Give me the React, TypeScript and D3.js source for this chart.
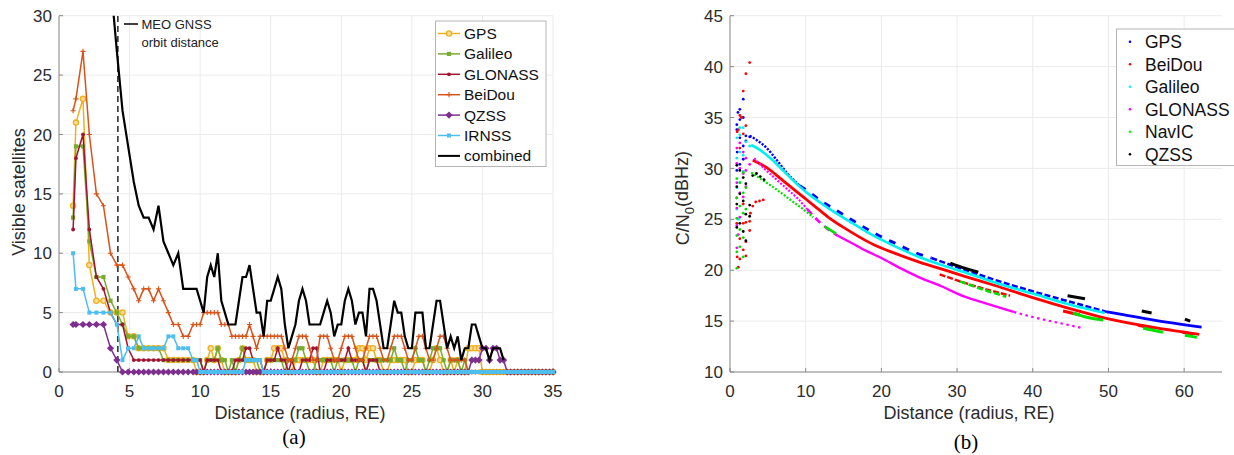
import React from 'react';
import * as d3 from 'd3';

// ---------------- Panel (a): visible satellites vs distance ----------------
const distanceA = [
  1.0, 1.2, 1.7, 2.15, 2.65, 3.15, 3.65, 4.1, 4.5, 4.9, 5.3, 5.65, 6.0, 6.35, 6.7, 7.05, 7.4, 7.75, 8.1, 8.45, 8.8, 9.15, 9.5,
  9.75, 10, 10.25, 10.5, 10.75, 11, 11.25, 11.5, 11.75, 12, 12.25, 12.5, 12.75, 13, 13.25, 13.5, 13.75, 14, 14.25, 14.5,
  14.75, 15, 15.25, 15.5, 15.75, 16, 16.25, 16.5, 16.75, 17, 17.25, 17.5, 17.75, 18, 18.25, 18.5, 18.75, 19, 19.25, 19.5,
  19.75, 20, 20.25, 20.5, 20.75, 21, 21.25, 21.5, 21.75, 22, 22.25, 22.5, 22.75, 23, 23.25, 23.5, 23.75, 24, 24.25, 24.5,
  24.75, 25, 25.25, 25.5, 25.75, 26, 26.25, 26.5, 26.75, 27, 27.25, 27.5, 27.75, 28, 28.25, 28.5, 28.75, 29, 29.25, 29.5,
  29.75, 30, 30.25, 30.5, 30.75, 31, 31.25, 31.5, 31.75, 32, 32.25, 32.5, 32.75, 33, 33.25, 33.5, 33.75, 34, 34.25, 34.5,
  34.75, 35,
];

const gpsA = [
  14, 21, 23, 9, 6, 6, 5, 5, 5, 3, 3, 2, 2, 2, 2, 2, 2, 1, 1, 1, 1, 1, 1,
  0, 0, 0, 1, 2, 1, 2, 1, 0, 0,
  0, 0, 1, 2, 1, 1, 1, 0, 0, 0,
  1, 1, 2, 2, 2, 1, 0, 0, 1, 1,
  1, 1, 1, 1, 0, 0, 1, 1, 1, 1,
  1, 0, 1, 1, 1, 1, 2, 2, 1, 2,
  2, 1, 1, 0, 0, 1, 1, 1, 1, 1,
  0, 0, 1, 1, 1, 0, 0, 1, 2, 1,
  0, 0, 1, 0, 1, 0, 0, 2, 2, 2,
  2, 0, 0, 0, 0, 0, 0, 0, 0, 0,
  0, 0, 0, 0, 0, 0, 0, 0, 0, 0,
  0, 0,
];

const galileoA = [
  13, 19, 19, 11, 8, 8, 6, 5, 4, 3, 3, 2, 2, 2, 2, 2, 1, 1, 1, 1, 1, 1, 1,
  1, 1, 0, 1, 1, 1, 2, 1, 1, 0,
  1, 0, 1, 2, 1, 1, 1, 1, 0, 0,
  1, 1, 1, 1, 1, 0, 1, 1, 1, 2,
  2, 1, 0, 0, 1, 1, 1, 1, 1, 0,
  1, 1, 1, 1, 1, 0, 1, 1, 0, 1,
  1, 1, 1, 1, 1, 1, 2, 1, 1, 0,
  1, 1, 2, 1, 1, 0, 1, 2, 2, 2,
  1, 0, 1, 1, 1, 0, 1, 0, 0, 0,
  0, 0, 0, 0, 0, 0, 0, 0, 0, 0,
  0, 0, 0, 0, 0, 0, 0, 0, 0, 0,
  0, 0,
];

const glonassA = [
  12, 18, 20, 12, 8, 7, 5, 4, 4, 2, 1, 1, 1, 1, 1, 1, 1, 1, 1, 1, 1, 1, 1,
  1, 1, 0, 1, 1, 1, 1, 0, 0, 0,
  0, 1, 1, 1, 2, 2, 1, 1, 1, 0,
  1, 1, 1, 2, 1, 1, 0, 1, 0, 0,
  1, 1, 1, 2, 2, 0, 0, 1, 1, 1,
  1, 1, 1, 2, 1, 1, 1, 1, 0, 1,
  1, 1, 0, 0, 0, 0, 0, 0, 0, 0,
  0, 0, 0, 0, 0, 0, 0, 0, 0, 0,
  0, 0, 0, 0, 0, 0, 0, 0, 0, 0,
  0, 0, 0, 0, 0, 0, 0, 0, 0, 0,
  0, 0, 0, 0, 0, 0, 0, 0, 0, 0,
  0, 0,
];

const beidouA = [
  22, 23, 27, 20, 15, 14, 10, 9, 9, 8, 7, 6, 7, 7, 6, 7, 6, 5, 4, 4, 3, 3, 4,
  4, 4, 5, 5, 5, 5, 5, 4, 4, 4,
  3, 3, 3, 3, 3, 4, 3, 2, 3, 3,
  3, 3, 3, 3, 3, 2, 1, 1, 2, 3,
  3, 3, 2, 1, 1, 3, 3, 3, 2, 1,
  1, 2, 3, 3, 3, 2, 1, 1, 2, 3,
  3, 3, 2, 1, 1, 2, 3, 3, 3, 2,
  1, 1, 2, 3, 3, 2, 1, 1, 2, 3,
  3, 2, 1, 1, 1, 1, 1, 0, 0, 0,
  0, 0, 0, 0, 0, 0, 0, 0, 0, 0,
  0, 0, 0, 0, 0, 0, 0, 0, 0, 0,
  0, 0,
];

const qzssA = [
  4, 4, 4, 4, 4, 4, 2, 1, 0, 0, 0, 0, 0, 0, 0, 0, 0, 0, 0, 0, 0, 0, 0,
  0, 0, 0, 0, 0, 0, 0, 0, 0, 0,
  0, 0, 0, 0, 0, 0, 0, 0, 0, 0,
  0, 0, 0, 0, 0, 0, 0, 0, 0, 0,
  0, 0, 0, 0, 0, 0, 0, 0, 0, 0,
  0, 0, 0, 0, 0, 0, 0, 0, 0, 0,
  0, 0, 0, 0, 0, 0, 0, 0, 0, 0,
  0, 0, 0, 0, 0, 0, 0, 0, 0, 0,
  0, 0, 0, 0, 0, 0, 0, 0, 1, 1,
  1, 2, 2, 1, 2, 2, 1, 1, 0, 0,
  0, 0, 0, 0, 0, 0, 0, 0, 0, 0,
  0, 0,
];

const irnssA = [
  10, 7, 7, 5, 5, 5, 5, 4, 1, 2, 2, 3, 2, 2, 2, 2, 2, 3, 3, 2, 2, 2, 1,
  1, 0, 0, 0, 0, 0, 0, 0, 0, 0,
  0, 0, 0, 0, 1, 1, 1, 1, 1, 0,
  0, 0, 0, 0, 0, 0, 0, 0, 0, 0,
  0, 0, 0, 0, 0, 0, 0, 0, 0, 0,
  0, 0, 0, 0, 0, 0, 0, 0, 0, 0,
  0, 0, 0, 0, 0, 0, 0, 0, 0, 0,
  0, 0, 0, 0, 0, 0, 0, 0, 0, 0,
  0, 0, 0, 0, 0, 0, 0, 0, 0, 0,
  0, 0, 0, 0, 0, 0, 0, 0, 0, 0,
  0, 0, 0, 0, 0, 0, 0, 0, 0, 0,
  0, 0,
];

const combinedA = [
  75, 92, 100, 61, 46, 44, 33, 27, 22, 19, 16, 14, 13, 13, 12, 14, 11, 10, 9, 10, 7, 7, 7,
  7, 6, 5, 8, 9, 8, 10, 6, 5, 4,
  4, 4, 6, 8, 8, 9, 7, 5, 5, 3,
  6, 6, 7, 8, 7, 4, 2, 3, 4, 6,
  7, 6, 4, 4, 4, 4, 5, 6, 5, 3,
  4, 4, 6, 7, 6, 4, 5, 5, 3, 7,
  7, 6, 4, 2, 2, 4, 6, 5, 5, 3,
  2, 2, 5, 5, 5, 2, 2, 4, 6, 6,
  4, 2, 3, 2, 3, 1, 2, 2, 4, 4,
  3, 2, 2, 1, 2, 2, 2, 1,
];

const meoOrbitDistance = 4.17;
const xTicksA = [0, 5, 10, 15, 20, 25, 30, 35];
const yTicksA = [0, 5, 10, 15, 20, 25, 30];

// ---------------- Panel (b): C/N0 vs distance ----------------
const gpsCluster = [[0.9, 34.3], [0.9, 33.8], [1.05, 35.5], [1.3, 35.8], [1.3, 34.8], [1.75, 36.8], [1.75, 35.0], [2.1, 33.2], [2.1, 32.7], [0.95, 31.6], [1.3, 33.0], [1.75, 32.2], [2.6, 33.1], [0.9, 29.8], [1.3, 30.4], [1.75, 30.9]];
const beidouCluster = [[0.95, 33.6], [1.1, 33.8], [1.3, 35.2], [1.5, 35.0], [1.75, 37.6], [2.1, 39.3], [2.6, 40.4], [1.3, 32.0], [1.75, 33.4], [2.1, 34.2], [0.9, 27.1], [0.9, 24.6], [0.95, 21.3], [1.1, 20.3], [1.3, 21.1], [1.3, 23.1], [1.75, 22.0], [1.75, 24.6], [1.75, 26.5], [2.1, 21.4], [2.1, 22.8], [2.1, 24.7], [2.6, 23.9], [2.6, 24.8], [2.7, 25.6], [3.0, 26.3], [3.4, 26.7], [3.9, 26.8], [4.4, 26.9]];
const galileoCluster = [[0.9, 33.0], [1.3, 34.0], [1.3, 33.3], [1.75, 34.0], [1.75, 31.3], [2.1, 32.6], [0.9, 31.0], [1.3, 31.6], [2.6, 32.2], [0.9, 28.1], [1.3, 28.6], [0.9, 26.0], [1.1, 25.0], [1.75, 29.7]];
const glonassCluster = [[0.9, 32.0], [0.9, 30.5], [0.9, 28.6], [0.9, 26.1], [0.9, 24.4], [0.9, 22.2], [1.3, 32.5], [1.3, 30.0], [1.3, 27.6], [1.3, 25.2], [1.75, 31.6], [1.75, 29.5], [1.75, 27.2], [2.1, 31.0], [2.1, 29.8], [2.1, 28.2], [2.6, 30.4], [1.1, 23.5]];
const navicCluster = [[0.9, 29.0], [0.9, 27.1], [0.9, 25.1], [0.9, 23.4], [0.9, 21.8], [0.9, 20.2], [1.3, 28.6], [1.3, 26.3], [1.3, 24.0], [1.3, 22.3], [1.75, 29.6], [1.75, 27.6], [1.75, 25.6], [1.75, 23.2], [1.75, 21.3], [2.1, 28.1], [2.1, 26.0]];
const qzssCluster = [[0.9, 30.3], [0.9, 28.2], [0.9, 26.5], [0.9, 24.2], [1.3, 29.8], [1.3, 27.5], [1.3, 24.6], [1.75, 29.1], [1.75, 26.8], [1.75, 23.8], [2.1, 28.5], [2.1, 25.5], [2.1, 22.9], [2.6, 26.4], [2.6, 25.3], [3.0, 29.3], [3.5, 29.5], [4.0, 29.2], [4.5, 28.9]];

const gpsTrackNear = [[2.6, 33.2], [3.5, 32.8], [4.85, 32.0], [6.2, 30.8], [7.7, 29.4], [9.2, 28.3]];
const gpsTrackDash = [[9.2, 28.3], [10.6, 27.6], [12, 26.8], [13.1, 26.3], [15.5, 25.2], [17.5, 24.3], [19.4, 23.5], [22.5, 22.4], [24.2, 21.8], [26.6, 21.2]];
const gpsTrackFar = [[26.6, 21.2], [30, 20.3], [35.2, 19.0], [40.1, 17.9], [45.4, 16.8], [49.8, 15.9]];
const gpsTrackEnd = [[49.8, 15.9], [56, 15.1], [62.3, 14.4]];

const galileoTrack = [[2.8, 32.3], [4, 31.8], [5.5, 30.9], [7, 29.8], [8.5, 28.7], [10, 27.7], [12, 26.6], [14, 25.6], [16, 24.7], [18, 23.8], [20, 23.0], [22.5, 22.1], [25, 21.3], [28, 20.5], [31, 19.8], [35, 18.8], [40, 17.7], [45, 16.6], [49.5, 15.8]];

const beidouTrack = [[3, 30.8], [4.8, 30.1], [7, 28.8], [10, 27.0], [11, 26.4], [13, 25.2], [15, 24.2], [17, 23.3], [19, 22.5], [22, 21.6], [25, 20.8], [28, 20.1], [31, 19.4], [35, 18.5], [40, 17.3], [45, 16.2], [49, 15.4], [55, 14.5], [62, 13.7]];
const beidouSeg1 = [[27.7, 19.6], [30, 19.0], [33, 18.3], [37, 17.5]];
const beidouSeg2 = [[44, 16.0], [46.2, 15.6]];
const beidouSeg3 = [[53.9, 14.6], [55.9, 14.3]];
const beidouSeg4 = [[59.8, 13.9], [61.2, 13.7]];

const glonassTrackNear = [[3.2, 31.0], [4.5, 30.0], [6, 29.0], [7.5, 28.0], [9, 27.0], [10.2, 26.0]];
const glonassTrackDash = [[10.2, 26.0], [12, 24.6], [14.2, 23.4]];
const glonassTrackMid = [[14.2, 23.4], [16, 22.7], [18, 21.9], [20, 21.2], [22.5, 20.2], [25, 19.3], [28, 18.4], [31, 17.4], [34, 16.7], [37.5, 15.9]];
const glonassTrackFar = [[37.5, 15.9], [40, 15.4], [43.6, 14.8], [46.7, 14.3]];

const navicTrackNear = [[2.8, 29.6], [4, 29.0], [6, 28.0], [8, 26.9], [10, 25.8], [11, 25.2]];
const navicSeg0 = [[12.5, 24.3], [14, 23.6]];
const navicSeg1 = [[30.4, 18.9], [33, 18.2], [36.5, 17.4]];
const navicSeg2 = [[45.3, 15.8], [47, 15.4], [49.3, 15.1]];
const navicSeg3 = [[54.6, 14.3], [57.2, 13.9]];
const navicSeg4 = [[60.1, 13.6], [61.7, 13.4]];

const qzssSeg1 = [[29.1, 20.7], [31, 20.2], [32.8, 19.8]];
const qzssSeg2 = [[44.6, 17.5], [46.9, 17.2]];
const qzssSeg3 = [[54.4, 16.0], [55.7, 15.8]];
const qzssSeg4 = [[60.1, 15.2], [60.8, 15.0]];

const xTicksB = [0, 10, 20, 30, 40, 50, 60];
const yTicksB = [10, 15, 20, 25, 30, 35, 40, 45];

// ---------------- styles ----------------
const FONT = '"Liberation Sans", Arial, Helvetica, sans-serif';
const AXIS = '#8a8a8a';
const GRID = '#ebebeb';
const TXT = '#2b2b2b';

type MarkerType = 'circle' | 'square' | 'dot' | 'plus' | 'diamond' | 'smallsquare' | 'none';

function Marker({ type, x, y, color }: { type: MarkerType; x: number; y: number; color: string }) {
  switch (type) {
    case 'circle':
      return <circle cx={x} cy={y} r={2.6} fill="#f6dd9c" stroke={color} strokeWidth={1.3} />;
    case 'square':
      return <rect x={x - 2.1} y={y - 2.1} width={4.2} height={4.2} fill={color} />;
    case 'dot':
      return <circle cx={x} cy={y} r={1.9} fill={color} />;
    case 'plus':
      return <path d={`M${x - 2.6},${y}H${x + 2.6}M${x},${y - 2.6}V${y + 2.6}`} stroke={color} strokeWidth={1.1} />;
    case 'diamond':
      return <path d={`M${x},${y - 3.6}L${x + 3.6},${y}L${x},${y + 3.6}L${x - 3.6},${y}Z`} fill={color} />;
    case 'smallsquare':
      return <rect x={x - 2} y={y - 2} width={4} height={4} fill={color} />;
    default:
      return null;
  }
}

const seriesA: { name: string; values: number[]; color: string; marker: MarkerType }[] = [
  { name: 'GPS', values: gpsA, color: '#EDB120', marker: 'circle' },
  { name: 'Galileo', values: galileoA, color: '#77AC30', marker: 'square' },
  { name: 'GLONASS', values: glonassA, color: '#A2142F', marker: 'dot' },
  { name: 'BeiDou', values: beidouA, color: '#D95319', marker: 'plus' },
  { name: 'QZSS', values: qzssA, color: '#7E2F8E', marker: 'diamond' },
  { name: 'IRNSS', values: irnssA, color: '#4DBEEE', marker: 'smallsquare' },
];

const legendB = [
  { name: 'GPS', color: '#0000FF' },
  { name: 'BeiDou', color: '#FF0000' },
  { name: 'Galileo', color: '#00FFFF' },
  { name: 'GLONASS', color: '#FF00FF' },
  { name: 'NavIC', color: '#00FF00' },
  { name: 'QZSS', color: '#000000' },
];

export default function App() {
  // panel (a) scales
  const xA = d3.scaleLinear().domain([0, 35]).range([59, 553]);
  const yA = d3.scaleLinear().domain([0, 30]).range([372, 15.7]);
  const lineA = (vals: number[]) =>
    d3.line<number>().x((_, i) => xA(distanceA[i])).y((v) => yA(v))(vals) || '';

  // panel (b) scales
  const xB = d3.scaleLinear().domain([0, 65]).range([730, 1222]);
  const yB = d3.scaleLinear().domain([10, 45]).range([372, 15.7]);
  const lineB = (pts: number[][]) =>
    d3.line<number[]>().x((p) => xB(p[0])).y((p) => yB(p[1])).curve(d3.curveMonotoneX)(pts) || '';

  const tracks: { pts: number[][]; color: string; w: number; dash?: string }[] = [
    { pts: gpsTrackNear, color: '#0000FF', w: 2.4, dash: '2.2 1.4' },
    { pts: gpsTrackDash, color: '#0000FF', w: 3, dash: '7 8' },
    { pts: gpsTrackFar, color: '#0000FF', w: 2.6, dash: '6 2.5' },
    { pts: gpsTrackEnd, color: '#0000FF', w: 2.8 },
    { pts: beidouTrack, color: '#FF0000', w: 2.8 },
    { pts: beidouSeg1, color: '#FF0000', w: 2.4, dash: '6 2' },
    { pts: beidouSeg2, color: '#FF0000', w: 3 },
    { pts: beidouSeg3, color: '#FF0000', w: 3 },
    { pts: beidouSeg4, color: '#FF0000', w: 3 },
    { pts: galileoTrack, color: '#00F0F0', w: 2.6 },
    { pts: glonassTrackNear, color: '#FF00FF', w: 2.2, dash: '2 1.6' },
    { pts: glonassTrackDash, color: '#FF00FF', w: 2.6, dash: '7 5' },
    { pts: glonassTrackMid, color: '#FF00FF', w: 2.4 },
    { pts: glonassTrackFar, color: '#FF00FF', w: 2.2, dash: '2.5 3.5' },
    { pts: navicTrackNear, color: '#00E000', w: 2.2, dash: '2 1.6' },
    { pts: navicSeg0, color: '#00E000', w: 2.6 },
    { pts: navicSeg1, color: '#00E000', w: 2.6, dash: '6 3' },
    { pts: navicSeg2, color: '#00E000', w: 3 },
    { pts: navicSeg3, color: '#00E000', w: 3 },
    { pts: navicSeg4, color: '#00E000', w: 3 },
    { pts: qzssSeg1, color: '#000000', w: 3 },
    { pts: qzssSeg2, color: '#000000', w: 3 },
    { pts: qzssSeg3, color: '#000000', w: 3 },
    { pts: qzssSeg4, color: '#000000', w: 3 },
  ];

  const clusters: { pts: number[][]; color: string }[] = [
    { pts: gpsCluster, color: '#0000FF' },
    { pts: beidouCluster, color: '#FF0000' },
    { pts: galileoCluster, color: '#00F0F0' },
    { pts: glonassCluster, color: '#FF00FF' },
    { pts: navicCluster, color: '#00E000' },
    { pts: qzssCluster, color: '#000000' },
  ];

  return (
    <svg
      width={1234}
      height={455}
      style={{ position: 'absolute', left: 0, top: 0, background: '#fff' }}
      fontFamily={FONT}
    >
      <defs>
        <clipPath id="clipA">
          <rect x={59} y={15.7} width={494} height={362} />
        </clipPath>
      </defs>
      <rect x={0} y={0} width={1234} height={455} fill="#fff" />

      {/* ================= Panel (a) ================= */}
      <g>
        {xTicksA.map((t) => (
          <line key={'gxa' + t} x1={xA(t)} x2={xA(t)} y1={yA(0)} y2={yA(30)} stroke={GRID} />
        ))}
        {yTicksA.map((t) => (
          <line key={'gya' + t} x1={xA(0)} x2={xA(35)} y1={yA(t)} y2={yA(t)} stroke={GRID} />
        ))}
        <line x1={xA(0)} x2={xA(35)} y1={yA(0)} y2={yA(0)} stroke={AXIS} />
        <line x1={xA(0)} x2={xA(0)} y1={yA(0)} y2={yA(30)} stroke={AXIS} />
        {xTicksA.map((t) => (
          <g key={'txa' + t}>
            <line x1={xA(t)} x2={xA(t)} y1={yA(0)} y2={yA(0) - 4} stroke={AXIS} />
            <text x={xA(t)} y={397} textAnchor="middle" fontSize={17} fill={TXT}>{t}</text>
          </g>
        ))}
        {yTicksA.map((t) => (
          <g key={'tya' + t}>
            <line x1={xA(0)} x2={xA(0) + 4} y1={yA(t)} y2={yA(t)} stroke={AXIS} />
            <text x={52} y={yA(t)} dy="0.36em" textAnchor="end" fontSize={17} fill={TXT}>{t}</text>
          </g>
        ))}
        <text x={300} y={419} textAnchor="middle" fontSize={18} fill={TXT}>Distance (radius, RE)</text>
        <text transform="translate(19,192) rotate(-90)" textAnchor="middle" dy="0.36em" fontSize={18} fill={TXT}>
          Visible satellites
        </text>

        {/* MEO line */}
        <line x1={xA(meoOrbitDistance)} x2={xA(meoOrbitDistance)} y1={yA(0)} y2={yA(30)} stroke="#333" strokeWidth={1.6} strokeDasharray="6 4" />

        {/* series */}
        {seriesA.map((s) => (
          <g key={s.name}>
            <path d={lineA(s.values)} fill="none" stroke={s.color} strokeWidth={1.5} />
            {s.values.map((v, i) => (
              <Marker key={i} type={s.marker} x={xA(distanceA[i])} y={yA(v)} color={s.color} />
            ))}
          </g>
        ))}
        <path d={lineA(combinedA)} fill="none" stroke="#000" strokeWidth={2.2} clipPath="url(#clipA)" />

        {/* MEO annotation */}
        <line x1={124} x2={138} y1={24} y2={24} stroke="#000" strokeWidth={1.5} />
        <text x={141.5} y={28.5} fontSize={13} fill="#222">MEO GNSS</text>
        <text x={141.5} y={46.5} fontSize={13} fill="#222">orbit distance</text>

        {/* legend */}
        <rect x={435.5} y={21} width={110.5} height={145.5} fill="#fff" stroke="#b5b5b5" />
        {seriesA.map((s, i) => {
          const y = 33.5 + i * 20.4;
          return (
            <g key={'lg' + s.name}>
              <line x1={438} x2={460} y1={y} y2={y} stroke={s.color} strokeWidth={1.5} />
              <Marker type={s.marker} x={449} y={y} color={s.color} />
              <text x={464} y={y} dy="0.36em" fontSize={15.5} fill="#111">{s.name}</text>
            </g>
          );
        })}
        <line x1={438} x2={460} y1={33.5 + 6 * 20.4} y2={33.5 + 6 * 20.4} stroke="#000" strokeWidth={2} />
        <text x={464} y={33.5 + 6 * 20.4} dy="0.36em" fontSize={15.5} fill="#111">combined</text>

        <text x={294} y={444} textAnchor="middle" fontSize={21} fontFamily='"Liberation Serif", "Times New Roman", serif' fill="#000">(a)</text>
      </g>

      {/* ================= Panel (b) ================= */}
      <g>
        {xTicksB.map((t) => (
          <line key={'gxb' + t} x1={xB(t)} x2={xB(t)} y1={yB(10)} y2={yB(45)} stroke={GRID} />
        ))}
        {yTicksB.map((t) => (
          <line key={'gyb' + t} x1={xB(0)} x2={xB(65)} y1={yB(t)} y2={yB(t)} stroke={GRID} />
        ))}
        <line x1={xB(0)} x2={xB(65)} y1={yB(10)} y2={yB(10)} stroke={AXIS} />
        <line x1={xB(0)} x2={xB(0)} y1={yB(10)} y2={yB(45)} stroke={AXIS} />
        {xTicksB.map((t) => (
          <g key={'txb' + t}>
            <line x1={xB(t)} x2={xB(t)} y1={yB(10)} y2={yB(10) - 4} stroke={AXIS} />
            <text x={xB(t)} y={397} textAnchor="middle" fontSize={17} fill={TXT}>{t}</text>
          </g>
        ))}
        {yTicksB.map((t) => (
          <g key={'tyb' + t}>
            <line x1={xB(0)} x2={xB(0) + 4} y1={yB(t)} y2={yB(t)} stroke={AXIS} />
            <text x={723} y={yB(t)} dy="0.36em" textAnchor="end" fontSize={17} fill={TXT}>{t}</text>
          </g>
        ))}
        <text x={969} y={419} textAnchor="middle" fontSize={18} fill={TXT}>Distance (radius, RE)</text>
        <text transform="translate(683,198) rotate(-90)" textAnchor="middle" dy="0.36em" fontSize={18} fill={TXT}>
          C/N<tspan fontSize={13} dy="0.35em">0</tspan><tspan dy="-0.35em">(dBHz)</tspan>
        </text>

        {tracks.map((t, i) => (
          <path key={'tr' + i} d={lineB(t.pts)} fill="none" stroke={t.color} strokeWidth={t.w} strokeDasharray={t.dash} />
        ))}
        {clusters.map((c, ci) =>
          c.pts.map((p, i) => (
            <circle key={'cl' + ci + '-' + i} cx={xB(p[0])} cy={yB(p[1])} r={1.4} fill={c.color} />
          ))
        )}

        {/* legend */}
        <rect x={1116.5} y={29} width={130} height={136.5} fill="#fff" stroke="#b5b5b5" />
        {legendB.map((s, i) => {
          const y = 41.7 + i * 22.5;
          return (
            <g key={'lgb' + s.name}>
              <circle cx={1130} cy={y} r={1.3} fill={s.color} />
              <text x={1145} y={y} dy="0.36em" fontSize={17.5} fill="#111">{s.name}</text>
            </g>
          );
        })}

        <text x={966} y={449} textAnchor="middle" fontSize={21} fontFamily='"Liberation Serif", "Times New Roman", serif' fill="#000">(b)</text>
      </g>
    </svg>
  );
}
